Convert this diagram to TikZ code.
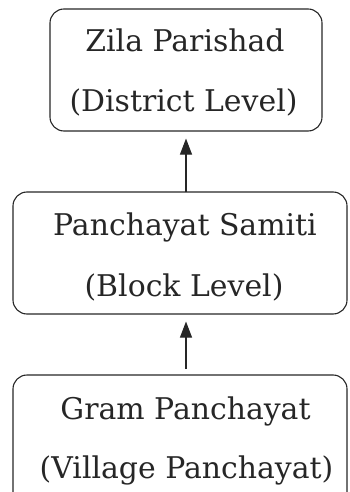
\documentclass[tikz,border=0pt]{standalone}
\usepackage{fontspec}
\setmainfont{DejaVu Serif}
\usetikzlibrary{arrows.meta}
\begin{document}
\begin{tikzpicture}[x=1bp,y=-1bp,
  box/.style={draw=black!85, line width=1.1bp, rounded corners=14bp, inner sep=0pt},
  lbl/.style={anchor=base, inner sep=0pt, font=\fontsize{30}{36}\selectfont, text=black!85},
  conn/.style={draw=black!85, line width=1.1bp, -{Triangle[length=16bp,width=12bp]}}]
\useasboundingbox (0,0) rectangle (349,492);
\begin{scope}
\clip (0,0) rectangle (349,492);
\node[box, minimum width=272bp, minimum height=122bp] (zp) at (186,70) {};
\node[box, minimum width=334bp, minimum height=122bp] (ps) at (180,253) {};
\node[box, minimum width=334bp, minimum height=150bp] (gp) at (180,450) {};
\end{scope}
\node[lbl] (zp1) at (185,52) {Zila Parishad};
\node[lbl] (zp2) at (183.5,112) {(District Level)};
\node[lbl] (ps1) at (185,235) {Panchayat Samiti};
\node[lbl] (ps2) at (184,296) {(Block Level)};
\node[lbl] (gp1) at (185.5,419) {Gram Panchayat};
\node[lbl] (gp2) at (186.5,478) {(Village Panchayat)};
\coordinate (a1) at (186,192);
\coordinate (a2) at (186,369);
\draw[conn, shorten >=7bp] (a1) -- (a1 |- zp.south);
\draw[conn, shorten >=7bp] (a2) -- (a2 |- ps.south);
\end{tikzpicture}
\end{document}
